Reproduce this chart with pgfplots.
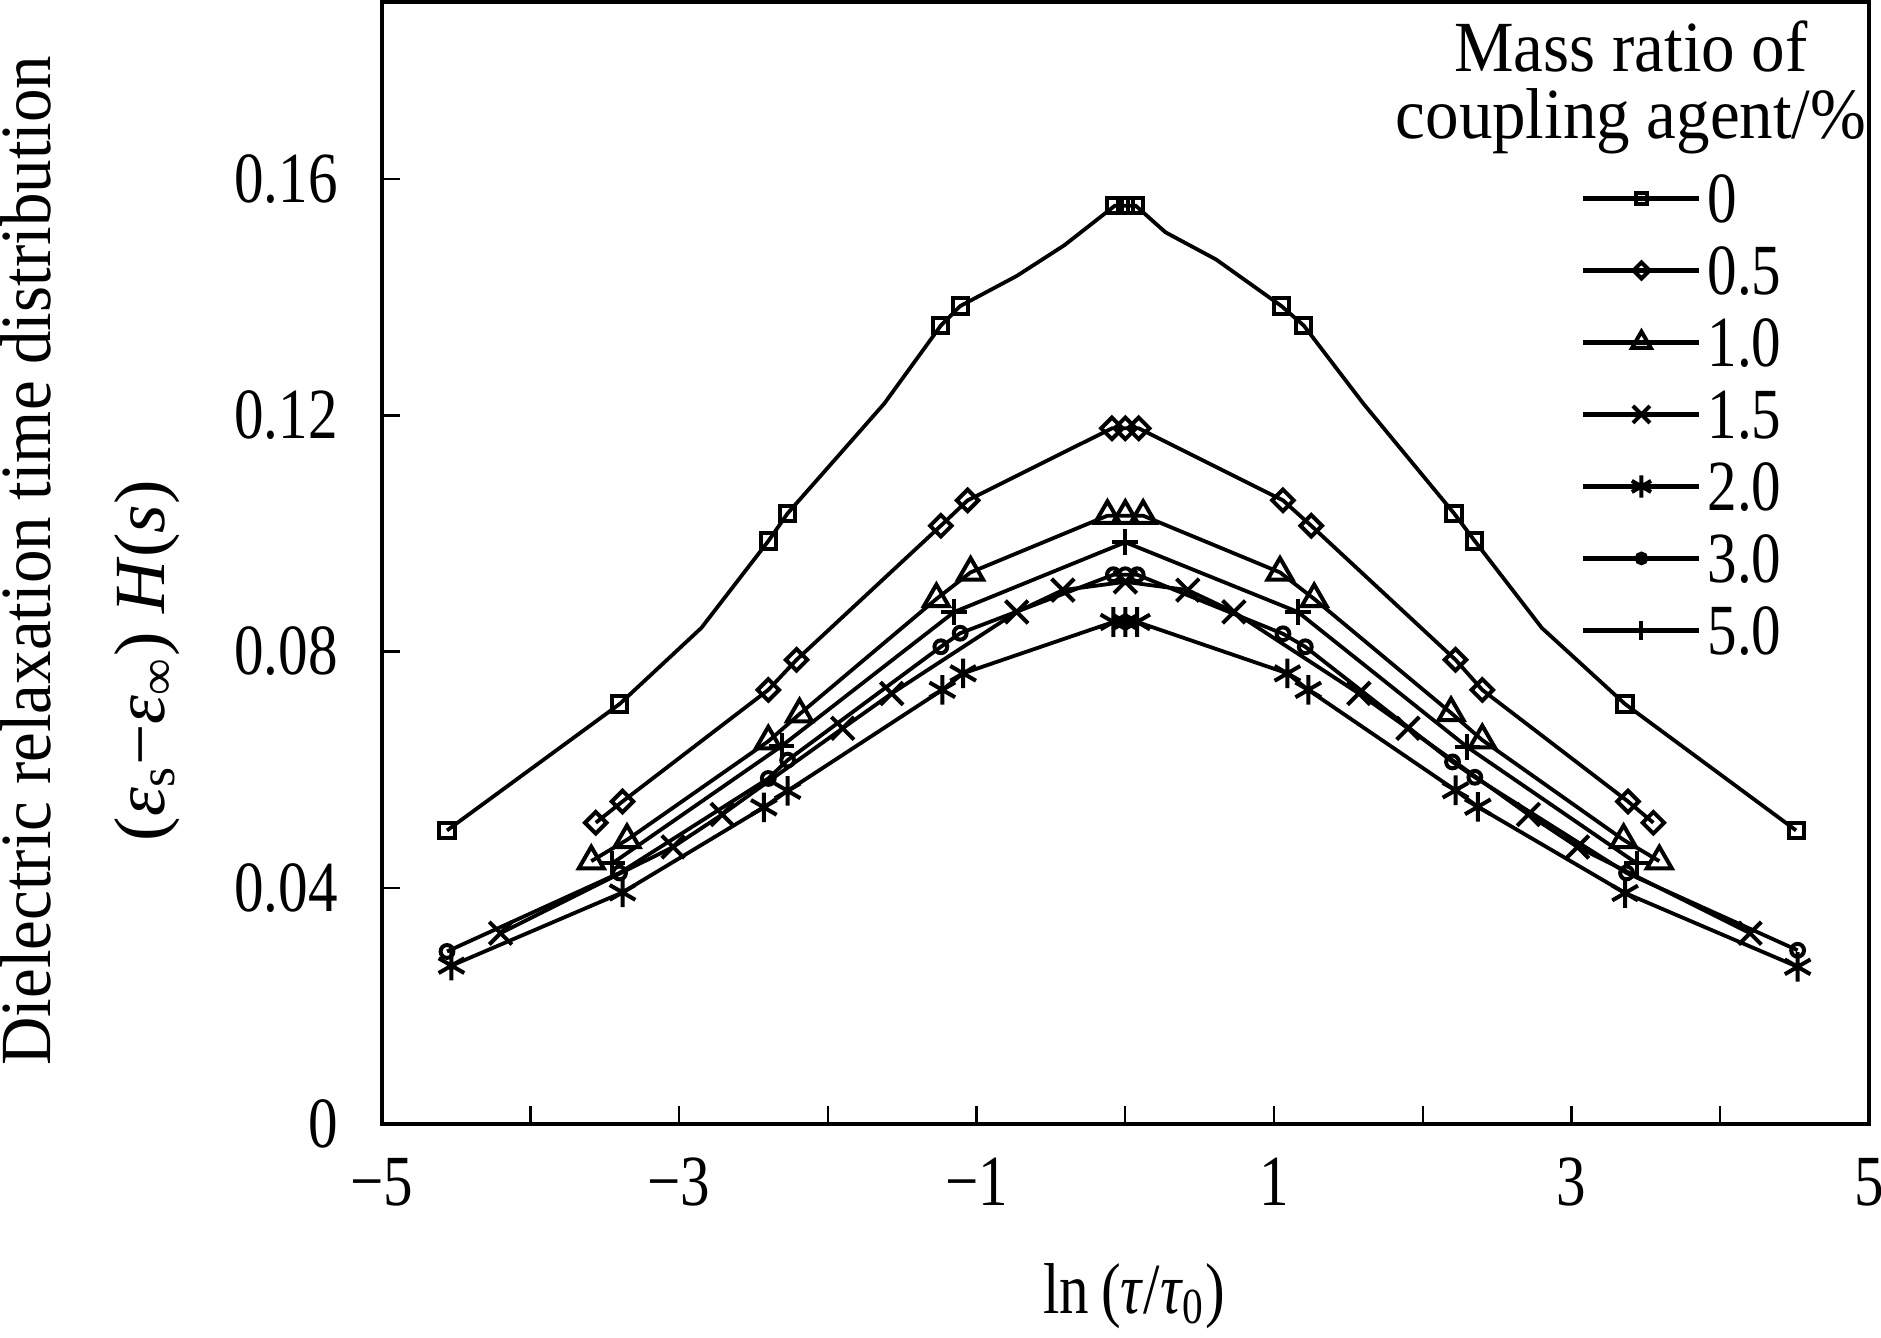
\documentclass[border=0pt]{standalone}
\usepackage{pgfplots}
\pgfplotsset{compat=1.18}
\usepackage{fontspec}
\setmainfont{Liberation Serif}[FakeStretch=0.82]
\newfontfamily\titlefont{Liberation Serif}[FakeStretch=0.93]
\newfontfamily\widefont{Liberation Serif}[FakeStretch=1.02]
\newcommand\ff{\fontsize{18}{21}\selectfont}

\begin{document}
\begin{tikzpicture}
\useasboundingbox (-95.4pt,-53.5pt) rectangle (374.9pt,281pt);
\begin{axis}[
  at={(0pt,0pt)}, anchor=south west,
  width=371.9pt, height=280.5pt, scale only axis,
  clip=false,
  xmin=-5, xmax=5, ymin=0, ymax=0.19,
  xtick={-5,...,5},
  xticklabels={−5,,−3,,−1,,1,,3,,5},
  ytick={0,0.04,0.08,0.12,0.16},
  yticklabels={0,0.04,0.08,0.12,0.16},
  tick align=inside, xtick pos=left, ytick pos=left,
  major tick length=4.5pt,
  tick style={black, line width=0.6pt},
  axis line style={line width=1pt},
  ticklabel style={font=\ff},
  xticklabel style={inner sep=0pt, yshift=-8.4pt},
  yticklabel style={inner sep=0pt, xshift=-10.8pt},
  every axis plot/.append style={black, line width=0.95pt},
  legend style={draw=none, fill=none, font=\ff,
    at={(axis description cs:0.806,0.847)}, anchor=north west,
    row sep=6pt, column sep=1.5pt, inner sep=0pt,
    nodes={inner sep=0pt, text height=12pt, text depth=0pt}},
  legend cell align=left,
  legend image code/.code={
    \draw[black, line width=1.1pt] (0pt,0pt) -- (29pt,0pt);
    \draw[#1, only marks, every mark/.append style={scale=0.75}] plot coordinates {(14.5pt,0pt)};
  },
]
% 0 % : line with intermediate points
\addplot[no marks, forget plot] coordinates {
(-4.56,0.0497) (-3.40,0.0711) (-2.85,0.0840) (-2.40,0.0987) (-2.27,0.1034)
(-1.62,0.1220) (-1.24,0.1352) (-1.11,0.1385) (-0.73,0.1436) (-0.41,0.1488)
(-0.07,0.1555) (0,0.1555) (0.07,0.1555) (0.27,0.1510) (0.61,0.1464)
(1.05,0.1385) (1.20,0.1352) (1.60,0.1220) (2.21,0.1034) (2.35,0.0987)
(2.80,0.0840) (3.36,0.0711) (4.51,0.0497)};
\addplot[only marks, mark=square, mark size=1.9pt, mark options={fill=white, line width=1pt}] coordinates {
(-4.56,0.0497) (-3.40,0.0711) (-2.40,0.0987) (-2.27,0.1034)
(-1.24,0.1352) (-1.11,0.1385) (-0.07,0.1555) (0,0.1555) (0.07,0.1555)
(1.05,0.1385) (1.20,0.1352) (2.21,0.1034) (2.35,0.0987) (3.36,0.0711) (4.51,0.0497)};
\addlegendentry{0}
% 0.5 %
\addplot[mark=square, mark size=1.9pt, mark options={rotate=45, fill=white, line width=1pt}] coordinates {
(-3.56,0.0510) (-3.38,0.0546) (-2.40,0.0735) (-2.21,0.0786) (-1.24,0.1013)
(-1.06,0.1056) (-0.09,0.1178) (0,0.1178) (0.09,0.1178) (1.06,0.1056)
(1.25,0.1013) (2.22,0.0786) (2.40,0.0735) (3.38,0.0546) (3.55,0.0510)};
\addlegendentry{0.5}
% 1.0 %
\addplot[mark=triangle, mark size=3.6pt, mark options={fill=white, line width=1pt}] coordinates {
(-3.59,0.0445) (-3.35,0.0481) (-2.40,0.0648) (-2.19,0.0694) (-1.27,0.0889)
(-1.04,0.0934) (-0.12,0.1030) (0,0.1030) (0.12,0.1030) (1.04,0.0934)
(1.27,0.0889) (2.19,0.0696) (2.40,0.0650) (3.35,0.0481) (3.59,0.0445)};
\addlegendentry{1.0}
% 1.5 %
\addplot[mark=x, mark size=4pt, mark options={line width=1pt}] coordinates {
(-4.20,0.0323) (-3.04,0.0469) (-2.71,0.0524) (-1.90,0.0670) (-1.57,0.0729)
(-0.73,0.0867) (-0.42,0.0904) (0,0.0918) (0.42,0.0904) (0.73,0.0867)
(1.57,0.0729) (1.90,0.0670) (2.71,0.0524) (3.04,0.0469) (4.20,0.0323)};
\addlegendentry{1.5}
% 2.0 %
\addplot[mark=asterisk, mark size=3.7pt, mark options={line width=1pt}] coordinates {
(-4.53,0.0268) (-3.38,0.0392) (-2.43,0.0536) (-2.27,0.0564) (-1.23,0.0735)
(-1.09,0.0763) (-0.08,0.0850) (0,0.0850) (0.08,0.0850) (1.09,0.0763)
(1.23,0.0735) (2.22,0.0565) (2.37,0.0537) (3.36,0.0391) (4.52,0.0266)};
\addlegendentry{2.0}
% 3.0 %
\addplot[mark=o, mark size=1.6pt, mark options={fill=white, line width=1pt}] coordinates {
(-4.56,0.0292) (-3.40,0.0425) (-2.40,0.0585) (-2.27,0.0616) (-1.24,0.0808)
(-1.11,0.0831) (-0.08,0.0930) (0,0.0930) (0.08,0.0930) (1.06,0.0830)
(1.21,0.0808) (2.20,0.0613) (2.35,0.0587) (3.37,0.0425) (4.52,0.0294)};
\addlegendentry{3.0}
% 5.0 %
\addplot[mark=+, mark size=3.2pt, mark options={line width=1pt}] coordinates {
(-3.45,0.0441) (-2.31,0.0640) (-1.15,0.0867) (0,0.0985) (1.16,0.0867)
(2.30,0.0638) (3.44,0.0441)};
\addlegendentry{5.0}

\node[font=\ff\titlefont, anchor=base] at (axis description cs:0.840,0.938) {Mass ratio of};
\node[font=\ff\titlefont, anchor=base] at (axis description cs:0.840,0.878) {coupling agent/\%};
\node[font=\ff\titlefont, rotate=90, anchor=base] at (axis description cs:-0.2226,0.502) {Dielectric relaxation time distribution};
\node[font=\ff\widefont, rotate=90, anchor=base] at (axis description cs:-0.146,0.413) {(\textit{ε}\textsubscript{s}−\textit{ε}\textsubscript{∞})\ \textit{H}(\textit{s})};
\node[font=\ff, anchor=base] at (axis description cs:0.506,-0.1686) {ln\,(\textit{τ}/\textit{τ}\textsubscript{0})};
\end{axis}
\end{tikzpicture}
\end{document}
